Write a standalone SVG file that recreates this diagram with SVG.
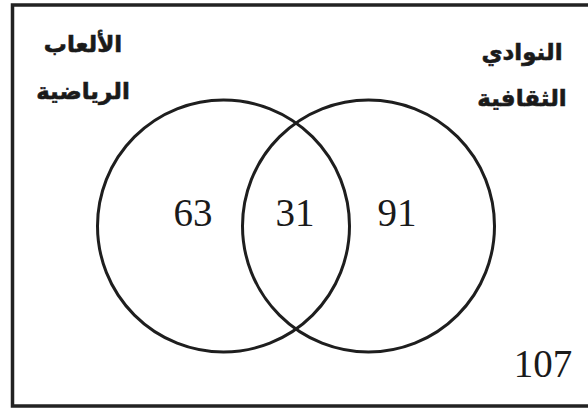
<svg xmlns="http://www.w3.org/2000/svg" width="588" height="410" viewBox="0 0 588 410">
  <style>
    .frame { fill: #ffffff; stroke: #222222; stroke-width: 3.5; }
    .set { fill: none; stroke: #1e1e1e; stroke-width: 3; }
    .ar { font-family: "DejaVu Sans", "Noto Sans", sans-serif; font-weight: bold; font-size: 23px; fill: #1a1a1a; stroke: #1a1a1a; stroke-width: 0.6; text-anchor: middle; }
    .num { font-family: "Liberation Serif", "DejaVu Serif", serif; font-size: 39px; fill: #1a1a1a; text-anchor: middle; }
  </style>
  <rect x="0" y="0" width="588" height="410" fill="#ffffff"/>
  <rect class="frame" x="12.5" y="5" width="600" height="401"/>
  <g id="set-sports">
    <circle class="set" cx="223.5" cy="226" r="126"/>
    <text class="ar" x="83" y="52" direction="rtl">الألعاب</text>
    <text class="ar" x="83" y="99" direction="rtl">الرياضية</text>
  </g>
  <g id="set-clubs">
    <circle class="set" cx="368.5" cy="226" r="126"/>
    <text class="ar" x="522" y="60" direction="rtl">النوادي</text>
    <text class="ar" x="522" y="106" direction="rtl">الثقافية</text>
  </g>
  <g id="region-sports-only">
    <text class="num" x="193" y="226">63</text>
  </g>
  <g id="region-both">
    <text class="num" x="295" y="226">31</text>
  </g>
  <g id="region-clubs-only">
    <text class="num" x="397" y="226">91</text>
  </g>
  <g id="region-neither">
    <text class="num" x="543" y="377">107</text>
  </g>
  <g id="connectors"></g>
</svg>
